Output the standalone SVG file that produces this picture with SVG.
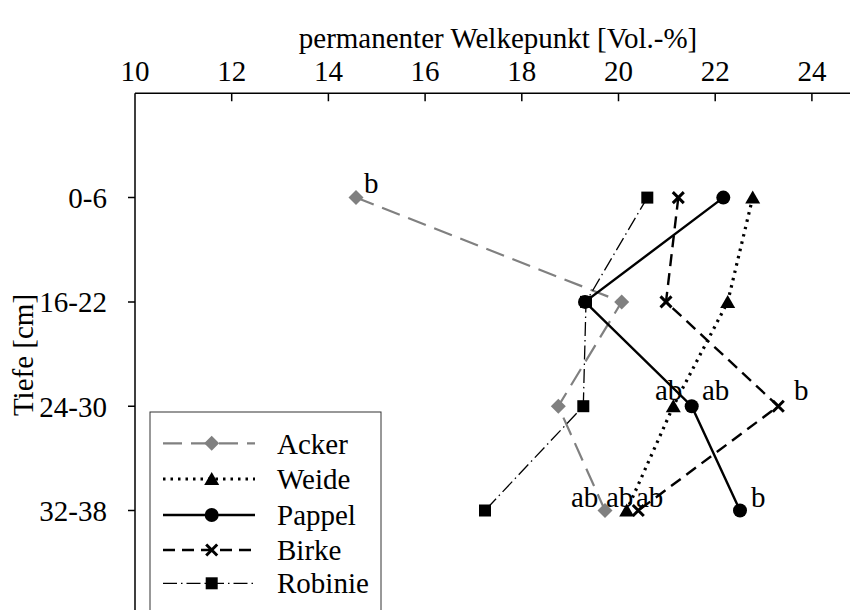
<svg xmlns="http://www.w3.org/2000/svg" width="850" height="610" viewBox="0 0 850 610">
<style>
text{font-family:"Liberation Serif","Times New Roman",serif;font-size:29px;fill:#000}
.ax{stroke:#000;stroke-width:1.5;fill:none}
.acker{stroke:#808080;stroke-width:2.2;fill:none;stroke-dasharray:19 9}
.weide{stroke:#000;stroke-width:3.2;fill:none;stroke-dasharray:2.5 5}
.pappel{stroke:#000;stroke-width:2.4;fill:none}
.birke{stroke:#000;stroke-width:2.4;fill:none;stroke-dasharray:12 7}
.robinie{stroke:#000;stroke-width:1.3;fill:none;stroke-dasharray:14 4 1.5 4}
.xm{stroke:#000;stroke-width:3;fill:none}
.mid{text-anchor:middle}
.end{text-anchor:end}
</style>
<defs>
<path id="dia" d="M0,-7.5 L7.5,0 L0,7.5 L-7.5,0Z" fill="#808080"/>
<path id="tri" d="M0,-7 L7.5,6 L-7.5,6Z" fill="#000"/>
<circle id="cir" r="7" fill="#000"/>
<rect id="sq" x="-6" y="-6" width="12" height="12" fill="#000"/>
<path id="xx" d="M-5.5,-5.5 L5.5,5.5 M-5.5,5.5 L5.5,-5.5" class="xm"/>
</defs>
<rect width="850" height="610" fill="#fff"/>
<g id="axes">
<path class="ax" d="M135,93.3 H850 M135,93.3 V610"/>
<path class="ax" d="M231.7,93.3 v8 M328.4,93.3 v8 M425.1,93.3 v8 M521.8,93.3 v8 M618.5,93.3 v8 M715.2,93.3 v8 M811.9,93.3 v8"/>
<path class="ax" d="M128,197.6 h7 M128,301.9 h7 M128,406.2 h7 M128,510.5 h7"/>
<g class="mid">
<text x="135" y="80.5">10</text>
<text x="231.7" y="80.5">12</text>
<text x="328.4" y="80.5">14</text>
<text x="425.1" y="80.5">16</text>
<text x="521.8" y="80.5">18</text>
<text x="618.5" y="80.5">20</text>
<text x="715.2" y="80.5">22</text>
<text x="811.9" y="80.5">24</text>
</g>
<text class="mid" x="498" y="47.5">permanenter Welkepunkt [Vol.-%]</text>
<g class="end">
<text x="107" y="208">0-6</text>
<text x="107" y="312">16-22</text>
<text x="107" y="416.5">24-30</text>
<text x="107" y="520.5">32-38</text>
</g>
<text class="mid" transform="translate(32.5,355) rotate(-90)">Tiefe [cm]</text>
</g>
<g id="series">
<g id="acker">
<polyline class="acker" points="356,197.6 621.7,301.9 558.3,406.2 605,510.5"/>
<use href="#dia" x="356" y="197.6"/><use href="#dia" x="621.7" y="301.9"/><use href="#dia" x="558.3" y="406.2"/><use href="#dia" x="605" y="510.5"/>
</g>
<g id="weide">
<polyline class="weide" points="752.7,197.6 727.7,301.9 673.3,406.2 626.7,510.5"/>
<use href="#tri" x="752.7" y="197.6"/><use href="#tri" x="727.7" y="301.9"/><use href="#tri" x="673.3" y="406.2"/><use href="#tri" x="626.7" y="510.5"/>
</g>
<g id="pappel">
<polyline class="pappel" points="723.3,197.6 585,301.9 691.7,406.2 740,510.5"/>
<use href="#cir" x="723.3" y="197.6"/><use href="#cir" x="585" y="301.9"/><use href="#cir" x="691.7" y="406.2"/><use href="#cir" x="740" y="510.5"/>
</g>
<g id="birke">
<polyline class="birke" points="678.3,197.6 666,301.9 778.3,406.2 638.3,510.5"/>
<use href="#xx" x="678.3" y="197.6"/><use href="#xx" x="666" y="301.9"/><use href="#xx" x="778.3" y="406.2"/><use href="#xx" x="638.3" y="510.5"/>
</g>
<g id="robinie">
<polyline class="robinie" points="647.3,197.6 586,301.9 583.3,406.2 485,510.5"/>
<use href="#sq" x="647.3" y="197.6"/><use href="#sq" x="586" y="301.9"/><use href="#sq" x="583.3" y="406.2"/><use href="#sq" x="485" y="510.5"/>
</g>
</g>
<g id="labels">
<text x="364" y="193">b</text>
<text x="655" y="399.5">ab</text>
<text x="702" y="399.5">ab</text>
<text x="794" y="399.5">b</text>
<text x="571" y="506.5">ab</text>
<text x="606" y="506.5">ab</text>
<text x="636" y="506.5">ab</text>
<text x="751" y="506.5">b</text>
</g>
<g id="legend">
<rect x="150" y="412" width="231" height="220" fill="#fff" stroke="#333" stroke-width="1"/>
<line class="acker" x1="163" y1="443.3" x2="255" y2="443.3"/><use href="#dia" x="211.7" y="443.3"/>
<text x="277" y="453.5">Acker</text>
<line class="weide" x1="163" y1="479" x2="255" y2="479"/><use href="#tri" x="211.7" y="479"/>
<text x="277" y="489">Weide</text>
<line class="pappel" x1="163" y1="515" x2="255" y2="515"/><use href="#cir" x="211.7" y="515"/>
<text x="277" y="525">Pappel</text>
<line class="birke" x1="163" y1="550" x2="255" y2="550"/><use href="#xx" x="211.7" y="550"/>
<text x="277" y="560">Birke</text>
<line class="robinie" x1="163" y1="583.3" x2="255" y2="583.3"/><use href="#sq" x="211.7" y="583.3"/>
<text x="277" y="593.3">Robinie</text>
</g>
</svg>
